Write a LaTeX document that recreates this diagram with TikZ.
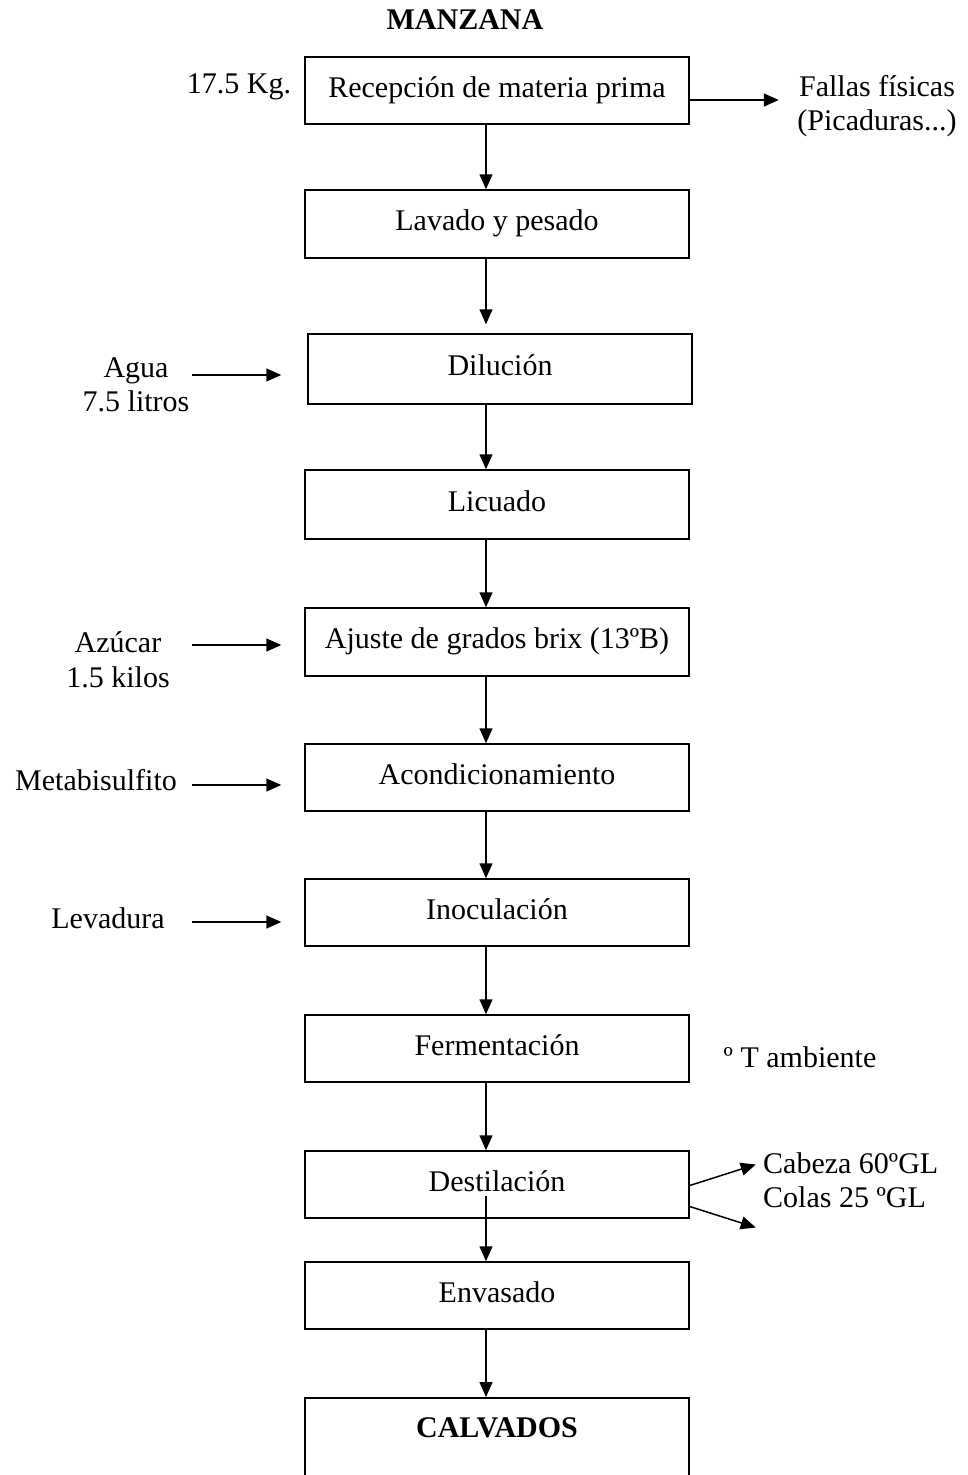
\documentclass[tikz,border=0pt]{standalone}
\usepackage{fontspec}
\setmainfont{Liberation Serif}
\usetikzlibrary{arrows.meta}
\begin{document}
\begin{tikzpicture}[x=1pt,y=-1pt,
  txt/.style={font=\fontsize{30}{34.5}\selectfont, inner sep=0pt, align=center},
  stepbox/.style={draw, line width=1.5pt, txt, minimum width=384pt, text height=22pt, text depth=9pt},
  arr/.style={line width=1.5pt, -{Triangle[length=15pt,width=13pt]}}]
\useasboundingbox (0,0) rectangle (967,1475);
\fill[white] (0,0) rectangle (967,1475);

\node[txt, font=\fontsize{30}{34.5}\selectfont\bfseries] (title) at (465,20) {MANZANA};

\node[stepbox, minimum height=67pt] (b1) at (497,90.5) {Recepción de materia prima};
\node[stepbox, minimum height=68pt] (b2) at (497,224) {Lavado y pesado};
\node[stepbox, minimum height=70pt] (b3) at (500,369) {Dilución};
\node[stepbox, minimum height=69pt] (b4) at (497,504.5) {Licuado};
\node[stepbox, minimum height=68pt] (b5) at (497,642) {Ajuste de grados brix (13ºB)};
\node[stepbox, minimum height=67pt] (b6) at (497,777.5) {Acondicionamiento};
\node[stepbox, minimum height=67pt] (b7) at (497,912.5) {Inoculación};
\node[stepbox, minimum height=67pt] (b8) at (497,1048.5) {Fermentación};
\node[stepbox, minimum height=67pt] (b9) at (497,1184.5) {Destilación};
\node[stepbox, minimum height=67pt] (b10) at (497,1295.5) {Envasado};
\node[stepbox, anchor=north, text height=40pt, text depth=60pt, inner ysep=0pt,
      font=\fontsize{30}{34.5}\selectfont\bfseries] (b11) at (497,1397) {CALVADOS};

% vertical connectors
\draw[arr] ([xshift=-11pt]b1.south) -- ([xshift=-11pt]b2.north);
\draw[arr] ([xshift=-11pt]b2.south) -- ([xshift=-14pt,yshift=9pt]b3.north);
\draw[arr] ([xshift=-14pt]b3.south) -- ([xshift=-11pt]b4.north);
\draw[arr] ([xshift=-11pt]b4.south) -- ([xshift=-11pt]b5.north);
\draw[arr] ([xshift=-11pt]b5.south) -- ([xshift=-11pt]b6.north);
\draw[arr] ([xshift=-11pt]b6.south) -- ([xshift=-11pt]b7.north);
\draw[arr] ([xshift=-11pt]b7.south) -- ([xshift=-11pt]b8.north);
\draw[arr] ([xshift=-11pt]b8.south) -- ([xshift=-11pt]b9.north);
\draw[arr] ([xshift=-11pt,yshift=23pt]b9.south) -- ([xshift=-11pt]b10.north);
\draw[arr] ([xshift=-11pt]b10.south) -- ([xshift=-11pt]b11.north);

% side labels
\node[txt] (kg) at (239,87) {17.5 Kg.};
\node[txt] (fallas) at (877,106) {Fallas físicas\\(Picaduras...)};
\draw[arr] ([yshift=-9.5pt]b1.east) -- ++(89,0);

\node[txt] (agua) at (136,385) {Agua\\7.5 litros};
\coordinate (inA) at (192,375);
\draw[arr] (inA) -- ([xshift=-26pt]inA -| b3.west);

\node[txt] (azucar) at (118,660) {Azúcar\\1.5 kilos};
\coordinate (inB) at (192,645);
\draw[arr] (inB) -- ([xshift=-23pt]inB -| b5.west);

\node[txt] (meta) at (96,780) {Metabisulfito};
\coordinate (inC) at (192,785);
\draw[arr] (inC) -- ([xshift=-23pt]inC -| b6.west);

\node[txt] (lev) at (108,918) {Levadura};
\coordinate (inD) at (192,922);
\draw[arr] (inD) -- ([xshift=-23pt]inD -| b7.west);

\node[txt] (tamb) at (800,1057) {º T ambiente};

\node[txt, align=left, anchor=west] (cab) at (763,1180) {Cabeza 60ºGL\\Colas 25 ºGL};
\draw[arr] ([yshift=-1pt]b9.east) -- ++(66,-21);
\draw[arr] ([yshift=-22pt]b9.east) -- ++(66,21);
\end{tikzpicture}
\end{document}
